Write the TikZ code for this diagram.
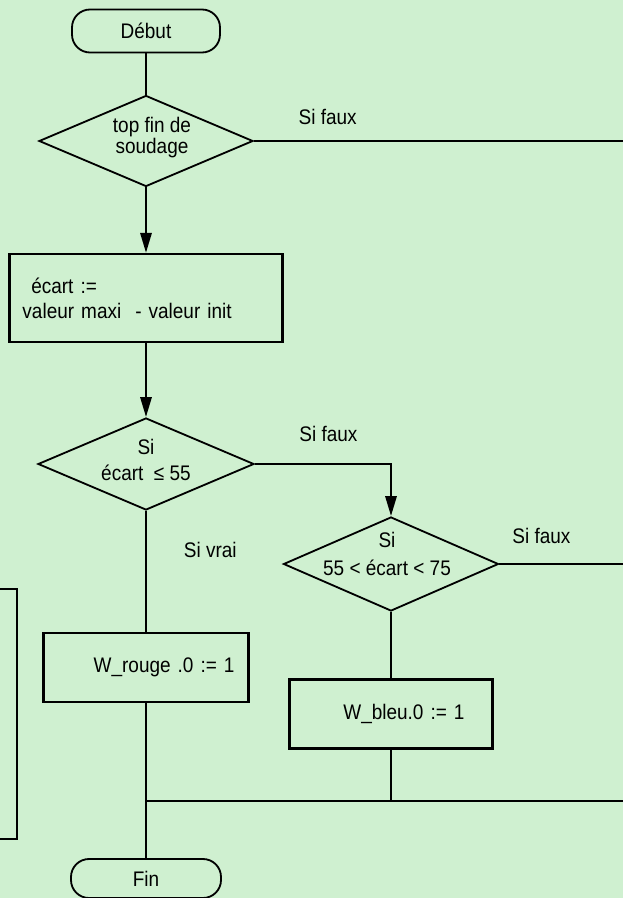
\documentclass[tikz,border=0pt]{standalone}
\usepackage{fontspec}
\setmainfont{Liberation Sans}[FakeStretch=0.9]
\usetikzlibrary{arrows.meta, shapes.geometric}

\definecolor{fondvert}{RGB}{207,240,208}

\begin{document}
\begin{tikzpicture}[
  x=0.25mm, y=-0.25mm,
  font=\fontsize{15}{17}\selectfont,
  terminal/.style={rectangle, draw, line width=1.3pt, rounded corners=0.45cm,
                   minimum width=3.7cm, minimum height=1.075cm},
  decision/.style={diamond, draw, line width=1.3pt, aspect=2.35,
                   minimum width=5.375cm, minimum height=2.3cm},
  dtexte/.style={align=center, inner sep=0pt,
                 font=\fontsize{15}{18}\selectfont},
  process/.style={rectangle, draw, line width=1.6pt, inner ysep=0pt},
  arr/.style={-{Triangle[length=0.5cm, width=0.28cm]}, line width=1.8pt},
  lien/.style={line width=1.8pt}
]
  \useasboundingbox (0,0) rectangle (623,898);
  \clip (0,0) rectangle (623,898);
  \fill[fondvert] (0,0) rectangle (623,898);

  \node[terminal] (debut) at (146,31) {Début};

  \node[decision, minimum width=5.35cm, minimum height=2.275cm] (c1) at (146,141) {};
  \node[dtexte, font=\fontsize{15}{13.5}\selectfont] (t1) at (152,138) {top fin de\\soudage};

  \node[process, text width=6.175cm, inner xsep=0.325cm, minimum height=2.2cm,
        align=left, font=\fontsize{15}{18}\selectfont] (calcul) at (146,298)
        {\hspace*{0.22cm}écart :=\\valeur maxi~ - valeur init};

  \node[decision, minimum width=5.4cm] (c2) at (146,464) {};
  \node[dtexte] (t2) at (146,460) {Si\\écart~ ≤ 55};

  \node[decision, minimum height=2.35cm] (c3) at (391,564) {};
  \node[dtexte, font=\fontsize{15}{20}\selectfont] (t3) at (387,554) {Si\\55 < écart < 75};

  \node[process, text width=4.425cm, inner xsep=0.35cm, minimum height=1.725cm,
        align=right] (rouge) at (146,667.5) {W\_rouge .0 := 1};
  \node[process, text width=3.675cm, inner xsep=0.7cm, minimum height=1.725cm,
        align=right] (bleu) at (391,714) {W\_bleu.0 := 1};

  \node[process, minimum width=2.925cm, minimum height=6.25cm] (gauche) at (-41.5,714) {};

  \node[terminal, minimum width=3.75cm, minimum height=0.975cm] (fin) at (146,878.5) {Fin};

  \coordinate (sortie1) at (623,141);
  \coordinate (sortie2) at (623,564);
  \coordinate (sortie3) at (623,801);

  % liaisons
  \draw[lien] (debut) -- (c1);
  \draw[lien] (c1.east) -- node[pos=0.2, above=0.25cm] {Si faux} (sortie1);
  \draw[arr]  (c1) -- (calcul);
  \draw[arr]  (calcul) -- (c2);
  \draw[arr]  (c2.east) -| node[pos=0.27, above=0.4cm] {Si faux} (c3.north);
  \draw[lien] (c2) -- node[pos=0.325, right=0.8cm] {Si vrai} (rouge);
  \draw[lien] (c3.east) -- node[pos=0.34, above=0.37cm] {Si faux} (sortie2);
  \draw[lien] (c3) -- (bleu);
  \draw[lien] (rouge) -- (fin);
  \draw[lien] (bleu) -- (bleu |- sortie3);
  \draw[lien] (rouge |- sortie3) -- (sortie3);
\end{tikzpicture}
\end{document}
